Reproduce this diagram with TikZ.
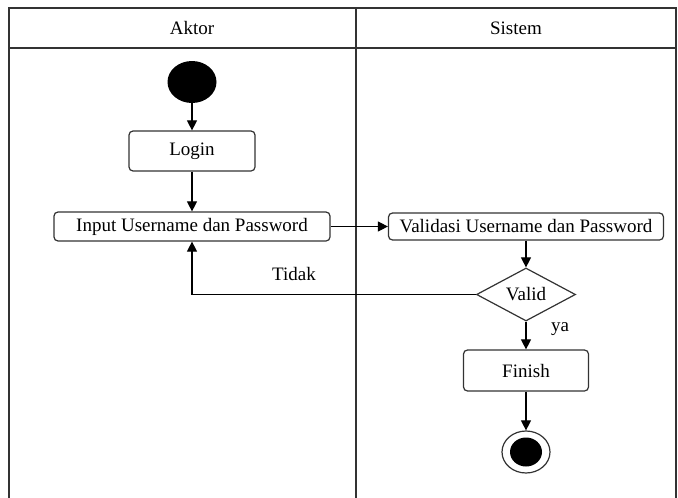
\documentclass[tikz,border=0pt]{standalone}
\usepackage{fontspec}
\setmainfont{Liberation Serif}
\usetikzlibrary{arrows.meta,shapes.geometric}
\begin{document}
\begin{tikzpicture}[x=1pt,y=-1pt,
  lane/.style={draw=black!80,line width=1.3pt},
  act/.style={draw=black!80,line width=1.2pt,rounded corners=4pt,fill=white,inner sep=0pt,font=\fontsize{19}{21}\selectfont},
  flow/.style={draw=black,line width=1.1pt,-{Triangle[length=10pt,width=10pt]}},
  lbl/.style={font=\fontsize{19}{21}\selectfont}]
\useasboundingbox (0,0) rectangle (678,498);
\fill[white] (0,0) rectangle (678,498);
% swimlanes
\draw[lane] (9,499) -- (9,8) -- (676,8) -- (676,499);
\draw[lane] (9,48) -- (676,48);
\draw[lane] (356,8) -- (356,499);
\node[lbl] (h1) at (192,28) {Aktor};
\node[lbl] (h2) at (516,28) {Sistem};
% nodes
\node[ellipse,fill=black,minimum width=49pt,minimum height=42pt,inner sep=0pt] (start) at (192,82) {};
\node[act,minimum width=126pt,minimum height=40pt] (login) at (192,151) {Login};
\node[act,minimum width=276pt,minimum height=29pt] (input) at (192,226.5) {Input Username dan Password};
\node[act,minimum width=275pt,minimum height=27pt] (valid) at (526,226.5) {Validasi Username dan Password};
\node[diamond,draw=black!80,line width=1.2pt,fill=white,minimum width=99pt,minimum height=53pt,inner sep=0pt,aspect=1.87,font=\fontsize{19}{21}\selectfont] (dec) at (526,294.5) {Valid};
\node[act,minimum width=125pt,minimum height=41pt] (finish) at (526,370.5) {Finish};
\node[ellipse,draw=black!80,line width=1.2pt,fill=white,minimum width=48pt,minimum height=42pt,inner sep=0pt] (end) at (526,452) {};
\node[ellipse,fill=black,minimum width=32pt,minimum height=29pt,inner sep=0pt] (endin) at (end.center) {};
% connectors
\draw[flow] (start) -- (login);
\draw[flow] (login) -- (input);
\draw[flow] (input) -- (valid);
\draw[flow] (valid) -- (dec);
\draw[flow] (dec.west) -| (input.south);
\draw[flow] (dec) -- (finish);
\draw[flow] (finish) -- (end);
\node[lbl] (tidak) at (294,274) {Tidak};
\node[lbl] (ya) at (560,329) {ya};
\end{tikzpicture}
\end{document}
